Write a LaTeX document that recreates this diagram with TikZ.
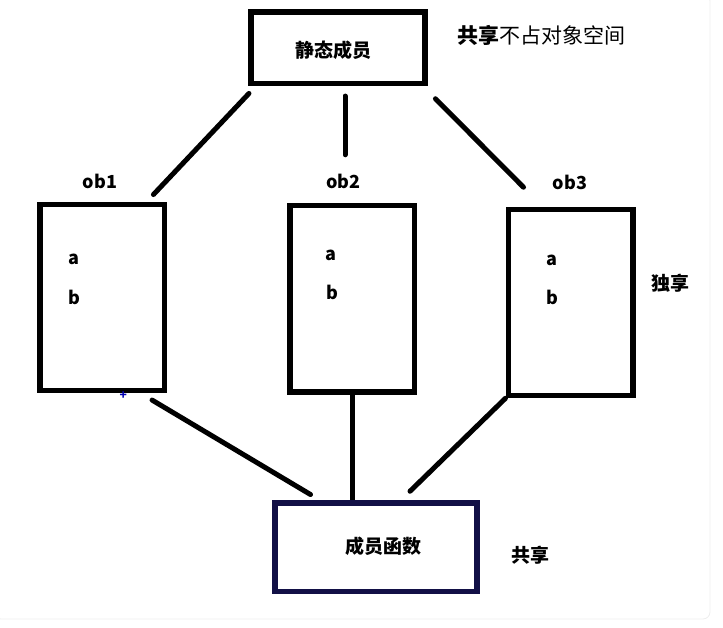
\documentclass[tikz,border=0pt]{standalone}
\usepackage{fontspec}
\setmainfont{Noto Sans CJK SC}
\usetikzlibrary{calc}
\definecolor{navyline}{RGB}{18,16,70}

\begin{document}
\begin{tikzpicture}[x=1pt, y=-1pt,
  objbox/.style={draw, line width=5.5pt, minimum width=124.5pt, minimum height=186pt,
                 inner sep=0pt},
  sharebox/.style={draw, line width=5.5pt, inner sep=0pt, font=\fontsize{19}{22}\selectfont\bfseries},
  member/.style={font=\fontsize{18}{20}\selectfont\bfseries, inner sep=0pt},
  note/.style={font=\fontsize{19}{22}\selectfont\bfseries, inner sep=0pt, anchor=west},
  link/.style={line width=5pt, line cap=round},
]
  \useasboundingbox (0,0) rectangle (723,628);
  \draw[black!7, line width=0.8pt, rounded corners=7pt] (-6,-6) rectangle (710,619);

  % Static members
  \node[sharebox, minimum width=174pt, minimum height=71.5pt] (static) at (338,47.75) {};
  \node[member, font=\fontsize{19}{22}\selectfont\bfseries] (statictxt) at (333,50) {静态成员};
  \node[note, font=\fontsize{21}{24}\selectfont] (staticnote) at (457,35) {\textbf{共享}不占对象空间};

  % Objects
  \node[objbox] (ob1) at (102.25,297.5) {};
  \node[objbox] (ob2) at (352.1,298.75) {};
  \node[objbox] (ob3) at (570.5,302.5) {};
  \node[member] (ob1name) at (100,181) {ob1};
  \node[member] (ob2name) at (343.3,181) {ob2};
  \node[member] (ob3name) at (570,182) {ob3};
  \node[member] (ob1a) at (74,259) {a};
  \node[member] (ob1b) at (74,297) {b};
  \node[member] (ob2a) at (331,255) {a};
  \node[member] (ob2b) at (332,292) {b};
  \node[member] (ob3a) at (552,260) {a};
  \node[member] (ob3b) at (552,297) {b};
  \node[note] (ownnote) at (651,283) {独享};
  \node[text=blue!70!black, font=\fontsize{12}{12}\selectfont\bfseries, inner sep=0pt] (cursor) at (123.3,396) {+};

  % Member functions
  \node[sharebox, draw=navyline, minimum width=202pt, minimum height=88.5pt] (func) at (376,547.25) {};
  \node[member, font=\fontsize{19}{22}\selectfont\bfseries] (functxt) at (383,546) {成员函数};
  \node[note] (funcnote) at (511,555) {共享};

  % Links
  \draw[link] ([shift={(0.7,7.2)}]static.south west) -- ([shift={(-13.8,-7.2)}]ob1.north east);
  \draw[link] ([shift={(7,9.8)}]static.south) -- ([shift={(-7.1,-48.2)}]ob2.north);
  \draw[link] ([shift={(7.7,12.5)}]static.south east) -- ([shift={(18,-19.5)}]ob3.north west);
  \draw[link] ([shift={(-15.2,6.8)}]ob1.south east) -- ([shift={(38.3,-5.7)}]func.north west);
  \draw[link, line cap=butt] (ob2.south) -- (ob2.south |- func.north);
  \draw[link] (ob3.south west) -- ([shift={(34,-9)}]func.north);
\end{tikzpicture}
\end{document}
